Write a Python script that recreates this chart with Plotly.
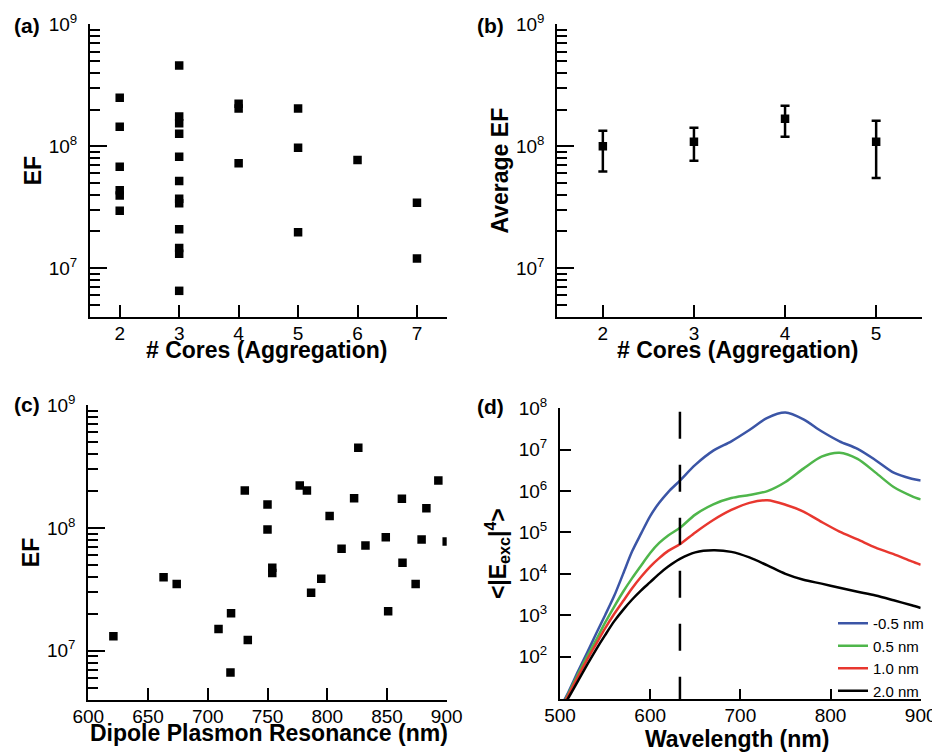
import plotly.graph_objects as go

# ---------------- data ----------------
# (a) EF vs number of cores
cores_a = [2, 2, 2, 2, 2, 2,
           3, 3, 3, 3, 3, 3, 3, 3, 3, 3, 3, 3,
           4, 4, 4,
           5, 5, 5,
           6,
           7, 7]
ef_a = [2.5e8, 1.45e8, 6.8e7, 4.35e7, 3.95e7, 2.95e7,
        4.6e8, 1.76e8, 1.55e8, 1.27e8, 8.2e7, 5.2e7, 3.7e7, 3.4e7, 2.08e7, 1.46e7, 1.31e7, 6.5e6,
        2.24e8, 2.04e8, 7.25e7,
        2.04e8, 9.75e7, 1.97e7,
        7.7e7,
        3.44e7, 1.2e7]

# (b) average EF with error bars
cores_b = [2, 3, 4, 5]
avg_ef_b = [1.0e8, 1.09e8, 1.68e8, 1.09e8]
upper_b = [1.34e8, 1.42e8, 2.15e8, 1.62e8]
lower_b = [6.2e7, 7.6e7, 1.2e8, 5.5e7]

# (c) EF vs dipole plasmon resonance
dpr_c = [621, 663, 674, 709, 719.5, 719, 731, 733.5, 750, 750, 754, 754,
         777, 783, 786.5, 795, 802, 812, 822.5, 826, 832, 849, 851,
         862.5, 863, 874, 879, 883, 893, 900]
ef_c = [1.31e7, 3.97e7, 3.5e7, 1.5e7, 2.02e7, 6.65e6, 2.02e8, 1.22e7, 1.55e8, 9.7e7, 4.73e7, 4.3e7,
        2.22e8, 2.02e8, 2.96e7, 3.85e7, 1.25e8, 6.76e7, 1.75e8, 4.5e8, 7.2e7, 8.4e7, 2.1e7,
        1.73e8, 5.2e7, 3.5e7, 8.05e7, 1.45e8, 2.44e8, 7.76e7]

# (d) <|E_exc|^4> spectra
wavelength = [500, 510, 520, 530, 540, 550, 560, 570, 580, 590, 600, 610, 620, 633,
              650, 670, 690, 710, 730, 750, 770, 790, 810, 830, 850, 870, 890, 900]
e4_m05 = [5.6, 15, 44, 123, 355, 1.0e3, 2.9e3, 1.0e4, 3.5e4, 9.5e4, 2.5e5, 5.2e5, 9.5e5, 1.8e6,
          4.3e6, 9.5e6, 1.6e7, 3.0e7, 5.9e7, 7.9e7, 5.4e7, 2.8e7, 1.6e7, 1.05e7, 5.6e6, 2.8e6, 2.0e6, 1.8e6]
e4_05 = [5.2, 13.5, 38, 100, 250, 660, 1.6e3, 3.7e3, 7.9e3, 1.6e4, 3.2e4, 5.6e4, 8.5e4, 1.3e5,
         2.7e5, 4.8e5, 6.8e5, 8.1e5, 1.0e6, 1.66e6, 3.5e6, 6.8e6, 8.5e6, 6.0e6, 2.8e6, 1.26e6, 7.6e5, 6.3e5]
e4_10 = [5.0, 12.6, 33, 83, 200, 480, 1.07e3, 2.2e3, 4.5e3, 8.5e3, 1.5e4, 2.4e4, 3.6e4, 5.2e4,
         1.0e5, 2.0e5, 3.5e5, 5.2e5, 6.0e5, 4.7e5, 3.2e5, 1.8e5, 1.05e5, 6.8e4, 4.3e4, 3.0e4, 2.0e4, 1.66e4]
e4_20 = [4.5, 10.7, 26, 63, 148, 330, 710, 1.35e3, 2.4e3, 4.0e3, 6.3e3, 1.0e4, 1.5e4, 2.3e4,
         3.3e4, 3.7e4, 3.4e4, 2.5e4, 1.6e4, 1.0e4, 7.2e3, 5.8e3, 4.6e3, 3.7e3, 3.0e3, 2.3e3, 1.74e3, 1.5e3]
series_names = ["-0.5 nm", "0.5 nm", "1.0 nm", "2.0 nm"]
series_colors = ["#3b55a6", "#4fb64b", "#e8372f", "#000000"]
laser_wl = 633

# ---------------- figure ----------------
FONT = "Liberation Sans, Arial, sans-serif"
fig = go.Figure()

fig.add_trace(go.Scatter(x=cores_a, y=ef_a, mode="markers", xaxis="x", yaxis="y",
                         marker=dict(symbol="square", size=8.5, color="black"), showlegend=False))
fig.add_trace(go.Scatter(x=cores_b, y=avg_ef_b, mode="markers", xaxis="x2", yaxis="y2",
                         marker=dict(symbol="square", size=8.5, color="black"),
                         error_y=dict(type="data", symmetric=False,
                                      array=[u - m for u, m in zip(upper_b, avg_ef_b)],
                                      arrayminus=[m - l for m, l in zip(avg_ef_b, lower_b)],
                                      color="black", thickness=2.5, width=4.5),
                         showlegend=False))
fig.add_trace(go.Scatter(x=dpr_c, y=ef_c, mode="markers", xaxis="x3", yaxis="y3",
                         marker=dict(symbol="square", size=8.5, color="black"), showlegend=False))
for name, ys, col in zip(series_names, [e4_m05, e4_05, e4_10, e4_20], series_colors):
    fig.add_trace(go.Scatter(x=wavelength, y=ys, mode="lines", name=name, xaxis="x4", yaxis="y4",
                             line=dict(color=col, width=2.5, shape="spline", smoothing=0.8)))

fig.add_shape(type="line", xref="x4", yref="y4 domain", x0=laser_wl, x1=laser_wl, y0=0.988, y1=0,
              line=dict(color="black", width=2.5, dash="27px,26px"))

# the page adds an 8 px body margin: lay out in window pixels, shifted by OFF
OFF = 8
W, H = 940 - OFF, 753 - OFF
def dx(a, b):
    return [(a - OFF) / W, (b - OFF) / W]
def dy(top, bottom):
    return [1 - (bottom - OFF) / H, 1 - (top - OFF) / H]
def px(x):
    return (x - OFF) / W
def py(y):
    return 1 - (y - OFF) / H

tickfont = dict(family=FONT, size=19, color="black")
titlefont = dict(family=FONT, size=23, color="black", weight="bold")
minor_vals = [k * 10 ** e for e in (6, 7, 8) for k in range(2, 10)]

def xax(domain, anchor, rng, tickvals, **kw):
    d = dict(domain=domain, anchor=anchor, range=rng, tickvals=tickvals, automargin=False,
             showline=True, linecolor="black", linewidth=2, mirror=False,
             ticks="inside", ticklen=12, tickwidth=2, tickcolor="black",
             showgrid=False, zeroline=False, tickfont=tickfont, ticklabelstandoff=-2)
    d.update(kw)
    return d

def yax_ef(domain, anchor, title):
    return dict(domain=domain, anchor=anchor, type="log", range=[6.598, 9.002], automargin=False,
                tickvals=[1e7, 1e8, 1e9], ticktext=["10<sup>7</sup>", "10<sup>8</sup>", "10<sup>9</sup>"],
                showline=True, linecolor="black", linewidth=2,
                ticks="inside", ticklen=17, tickwidth=2, tickcolor="black",
                minor=dict(tickvals=minor_vals, ticks="inside", ticklen=10, tickwidth=2, tickcolor="black"),
                showgrid=False, zeroline=False, tickfont=tickfont, ticklabelstandoff=7,
                title=dict(text=title, font=titlefont, standoff=1))

fig.update_layout(
    width=W, height=H, margin=dict(l=0, r=0, t=0, b=0, autoexpand=False), autosize=False,
    paper_bgcolor="white", plot_bgcolor="white",
    font=dict(family=FONT, color="black"),
    xaxis=xax(dx(90, 446.7), "y", [1.5, 7.5], [2, 3, 4, 5, 6, 7]),
    yaxis=yax_ef(dy(24.3, 317), "x", "EF"),
    xaxis2=xax(dx(557.3, 921.7), "y2", [1.5, 5.5], [2, 3, 4, 5]),
    yaxis2=yax_ef(dy(24.3, 317), "x2", "Average EF"),
    xaxis3=xax(dx(88.3, 446.7), "y3", [600, 900], [600, 650, 700, 750, 800, 850, 900]),
    yaxis3=yax_ef(dy(405, 700), "x3", "EF"),
    xaxis4=xax(dx(560, 920.7), "y4", [500, 900], [500, 600, 700, 800, 900], ticklen=10),
    yaxis4=dict(domain=dy(408.3, 699), anchor="x4", type="log", range=[0.975, 8.002], automargin=False,
                tickvals=[10 ** k for k in range(2, 9)],
                ticktext=["10<sup>%d</sup>" % k for k in range(2, 9)],
                showline=True, linecolor="black", linewidth=2,
                ticks="inside", ticklen=11, tickwidth=2, tickcolor="black",
                showgrid=False, zeroline=False, tickfont=tickfont, ticklabelstandoff=7,
                title=dict(text="&lt;|E<sub>exc</sub>|<sup>4</sup>&gt;", font=titlefont, standoff=6)),
    legend=dict(x=px(929), y=py(607), xanchor="right", yanchor="top", bgcolor="rgba(0,0,0,0)",
                font=dict(family=FONT, size=15, color="black"), tracegroupgap=0),
)

# x-axis titles (placed as in the reference, tight under the tick labels)
for text, x, y in [("# Cores (Aggregation)", 267, 350), ("# Cores (Aggregation)", 738, 350),
                   ("Dipole Plasmon Resonance (nm)", 269, 733), ("Wavelength (nm)", 737, 739)]:
    fig.add_annotation(text=text, xref="paper", yref="paper", x=px(x), y=py(y),
                       xanchor="center", yanchor="middle", showarrow=False, font=titlefont)

for label, x, y in [("(a)", 27, 25), ("(b)", 490, 25), ("(c)", 27, 404), ("(d)", 490, 406)]:
    fig.add_annotation(text=label, xref="paper", yref="paper", x=px(x), y=py(y),
                       xanchor="center", yanchor="middle", showarrow=False,
                       font=dict(family=FONT, size=21, color="black", weight="bold"))

fig.write_html("out.html")
